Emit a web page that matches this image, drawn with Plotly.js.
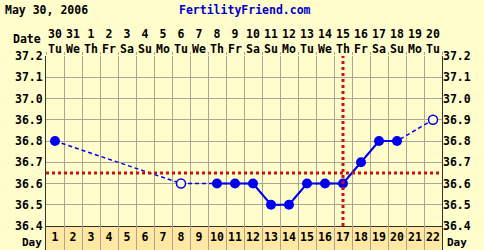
<!DOCTYPE html>
<html><head><meta charset="utf-8">
<script src="https://cdn.plot.ly/plotly-3.0.1.min.js"></script>
<style>html,body{margin:0;padding:0;background:#fffdcc;}#chart{width:484px;height:250px;}</style>
</head><body><div id="chart"></div>
<script>
// ---- data ----
const chartDate = "May 30, 2006";
const siteName = "FertilityFriend.com";
const cycleDays = [1,2,3,4,5,6,7,8,9,10,11,12,13,14,15,16,17,18,19,20,21,22];
const dateNums = ["30","31","1","2","3","4","5","6","7","8","9","10","11","12","13","14","15","16","17","18","19","20"];
const weekDays = ["Tu","We","Th","Fr","Sa","Su","Mo","Tu","We","Th","Fr","Sa","Su","Mo","Tu","We","Th","Fr","Sa","Su","Mo","Tu"];
const temps = [36.8,null,null,null,null,null,null,36.6,null,36.6,36.6,36.6,36.5,36.5,36.6,36.6,36.6,36.7,36.8,36.8,null,36.9];
const openMarks = [false,false,false,false,false,false,false,true,false,false,false,false,false,false,false,false,false,false,false,false,false,true];
const coverline = 36.65;
const ovulationDay = 17;
const yTicks = [36.4,36.5,36.6,36.7,36.8,36.9,37.0,37.1,37.2];

// ---- derived ----
const filledT = temps.map((t,i)=> openMarks[i] ? null : t);
const openT = temps.map((t,i)=> openMarks[i] ? t : null);
const topText = dateNums.map((d,i)=> d + "<br>" + weekDays[i]);

const BG = "#fffdcc", ROW = "#ffe9a2", GRID = "#aaa595", BLUE = "#0000f0", RED = "#cc1111";
const F = {family:"DejaVu Sans Mono, monospace", size:11.5, color:"#000", weight:"bold"};
const FD = Object.assign({}, F, {size:11});

const traces = [
  {x:cycleDays, y:temps, xaxis:"x", yaxis:"y", mode:"lines", connectgaps:true,
   line:{color:BLUE, width:1.5, dash:"4px,3px"}, hoverinfo:"skip"},
  {x:cycleDays, y:filledT, xaxis:"x", yaxis:"y", mode:"lines+markers", connectgaps:false,
   line:{color:BLUE, width:2}, marker:{color:BLUE, size:10}, hoverinfo:"skip"},
  {x:cycleDays, y:openT, xaxis:"x", yaxis:"y", mode:"markers",
   marker:{color:BG, size:9, line:{color:BLUE, width:1.5}}, hoverinfo:"skip"},
  {x:cycleDays, y:cycleDays.map(()=>0.5), xaxis:"x", yaxis:"y2", mode:"text",
   text:cycleDays.map(String), textfont:F, hoverinfo:"skip"},
  {x:cycleDays, y:cycleDays.map(()=>null), xaxis:"x2", yaxis:"y3", mode:"markers", hoverinfo:"skip"}
];

const mainLo = 24/194;
const layout = {
  width:484, height:250, showlegend:false,
  paper_bgcolor:BG, plot_bgcolor:BG,
  margin:{l:46, r:42, t:56, b:0, pad:0},
  font:F,
  xaxis:{range:[0.5,22.5], anchor:"y", tick0:0.5, dtick:1, showticklabels:false, ticks:"",
         showgrid:true, gridcolor:GRID, gridwidth:1, zeroline:false,
         showline:true, linecolor:"#333", linewidth:1},
  xaxis2:{range:[0.5,22.5], overlaying:"x", side:"top", anchor:"y3",
          tickmode:"array", tickvals:cycleDays, ticktext:topText, ticks:"", ticklen:0,
          tickfont:F, showgrid:false, zeroline:false, showline:false,
          minor:{tick0:0.5, dtick:1, ticks:"outside", ticklen:3, tickcolor:GRID, showgrid:false}},
  yaxis:{domain:[mainLo,1], range:[36.4,37.2], tickmode:"array", tickvals:yTicks,
         ticktext:yTicks.map(v=>v.toFixed(1)), tickfont:F, ticks:"",
         showgrid:true, gridcolor:GRID, gridwidth:1, zeroline:false, showline:true,
         linecolor:"#333", linewidth:1, mirror:true},
  yaxis3:{range:[36.4,37.2], overlaying:"y", side:"right", tickmode:"array", tickvals:yTicks,
          ticktext:yTicks.map(v=>v.toFixed(1)), tickfont:F, ticks:"",
          showgrid:false, zeroline:false, showline:false},
  yaxis2:{domain:[0,mainLo], range:[0,1], showticklabels:false, showgrid:false, zeroline:false,
          showline:true, linecolor:"#333", linewidth:1, mirror:true, ticks:""},
  shapes:[
    {type:"rect", xref:"x", yref:"y2 domain", x0:0.5, x1:22.5, y0:0, y1:1,
     fillcolor:ROW, line:{width:0}, layer:"below"},
    {type:"line", xref:"x", yref:"y", x0:0.5, x1:22.5, y0:coverline, y1:coverline,
     line:{color:RED, width:3, dash:"dot"}, layer:"above"},
    {type:"line", xref:"x", yref:"y", x0:ovulationDay, x1:ovulationDay, y0:36.4, y1:37.2,
     line:{color:RED, width:3, dash:"dot"}, layer:"above"}
  ],
  annotations:[
    {text:chartDate, xref:"paper", yref:"paper", x:-43/396, y:1+46/194, xanchor:"left", yanchor:"middle", showarrow:false, font:F},
    {text:siteName, xref:"paper", yref:"paper", x:(177-46)/396, y:1+46/194, xanchor:"left", yanchor:"middle", showarrow:false, font:Object.assign({},F,{color:"#0000cc"})},
    {text:"Date", xref:"paper", yref:"paper", x:-3/396, y:1+17/194, xanchor:"right", yanchor:"middle", showarrow:false, font:F},
    {text:"Day", xref:"paper", yref:"y2", x:-3/396, y:0, xanchor:"right", yanchor:"bottom", showarrow:false, font:FD, borderpad:0},
    {text:"Day", xref:"paper", yref:"y2", x:1+4/396, y:0, xanchor:"left", yanchor:"bottom", showarrow:false, font:FD, borderpad:0}
  ]
};

Plotly.newPlot("chart", traces, layout, {staticPlot:true, displayModeBar:false});
</script></body></html>
